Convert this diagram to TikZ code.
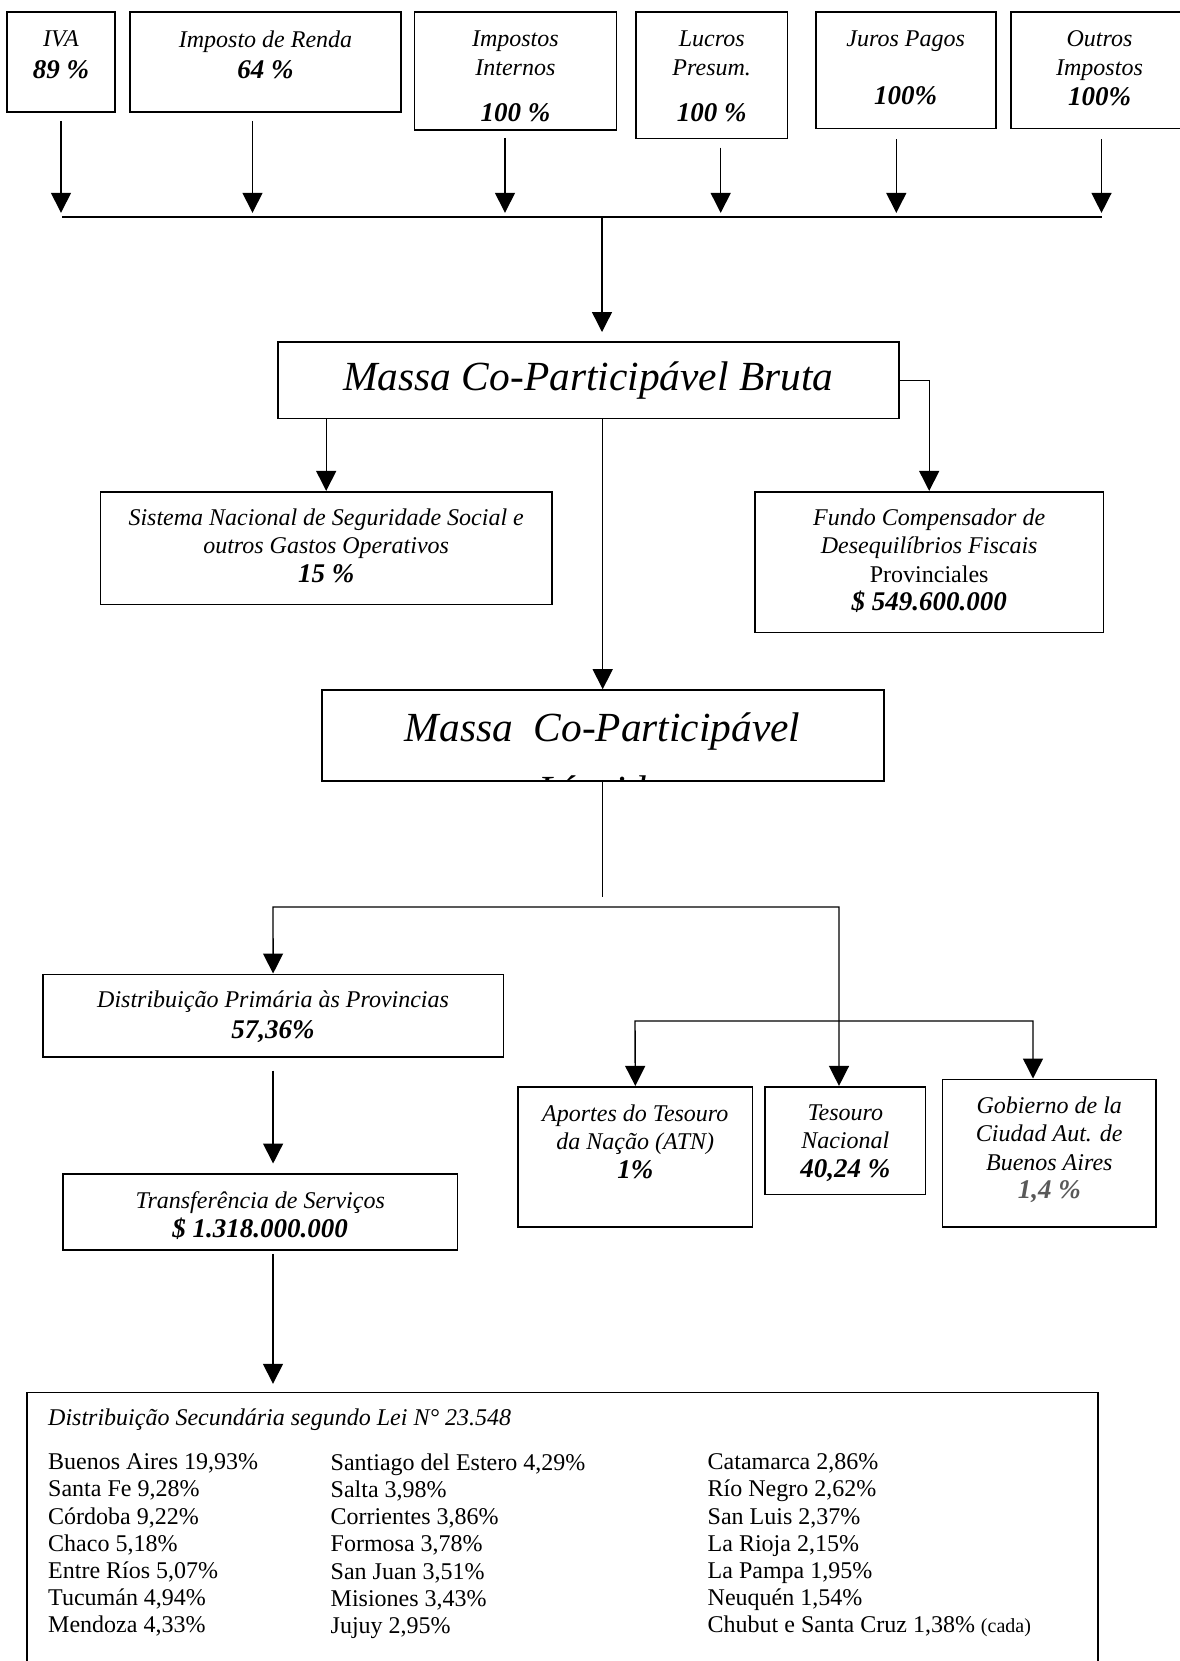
\documentclass[tikz,border=0pt]{standalone}
\usepackage{fontspec}
\setmainfont{Liberation Serif}
\usetikzlibrary{arrows.meta}

\newcommand{\pct}[1]{{\fontsize{13.5}{15}\selectfont\bfseries #1}}

\tikzset{
    box/.style={draw, line width=0.8pt, inner sep=0pt},
    txt/.style={anchor=north, inner sep=0pt, align=center, font=\fontsize{12}{14.2}\selectfont\itshape},
    big/.style={font=\fontsize{20.7}{31.5}\selectfont\itshape},
    col/.style={anchor=north west, inner sep=0pt, align=left, font=\fontsize{12}{13.6}\selectfont}
}

\begin{document}
\begin{tikzpicture}[x=0.5pt, y=-0.5pt, line width=0.7pt, >={Triangle[length=10pt, width=10pt]}]
    \useasboundingbox (0,0) rectangle (1179,1661);

    \node[box, minimum width=54pt, minimum height=50pt] at (61, 62) (iva) {};
    \node[txt] at ([yshift=-9.5pt]iva.north) (iva-t) {IVA\\[1.5pt]\pct{89 \%}};
    \node[box, minimum width=135.5pt, minimum height=50pt] at (265.5, 62) (renda) {};
    \node[txt] at ([yshift=-9.5pt]renda.north) (renda-t) {Imposto de Renda\\[1.5pt]\pct{64 \%}};
    \node[box, minimum width=101pt, minimum height=59pt] at (515.4, 71) (internos) {};
    \node[txt] at ([yshift=-9.5pt]internos.north) (internos-t) {Impostos\\Internos\\[9pt]\pct{100 \%}};
    \node[box, minimum width=75.7pt, minimum height=63.2pt] at (711.7, 75.2) (lucros) {};
    \node[txt] at ([yshift=-9.5pt]lucros.north) (lucros-t) {Lucros\\Presum.\\[9pt]\pct{100 \%}};
    \node[box, minimum width=90pt, minimum height=58.2pt] at (905.7, 70.2) (juros) {};
    \node[txt] at ([yshift=-9.5pt]juros.north) (juros-t) {Juros Pagos\\[14.5pt]\pct{100\%}};
    \node[box, minimum width=88.5pt, minimum height=58.2pt] at (1099.5, 70.2) (outros) {};
    \node[txt] at ([yshift=-9.5pt]outros.north) (outros-t) {Outros\\Impostos\\[1pt]\pct{100\%}};

    \draw[->] ([yshift=-4pt]iva.south) -- ++(0,92);
    \draw[->] ([xshift=-6.5pt, yshift=-4pt]renda.south) -- ++(0,92);
    \draw[->] ([xshift=-5.2pt, yshift=-3.5pt]internos.south) -- ++(0,75);
    \draw[->] ([xshift=4.5pt, yshift=-4.2pt]lucros.south) -- ++(0,65.3);
    \draw[->] ([xshift=-4.7pt, yshift=-5pt]juros.south) -- ++(0,73.7);
    \draw[->] ([xshift=1pt, yshift=-5pt]outros.south) -- ++(0,73.7);

    \coordinate (bar-l) at (62, 217);
    \coordinate (bar-r) at (1102, 217);
    \coordinate (join) at (602, 217);
    \draw[line width=1pt] (bar-l) -- (bar-r);

    \node[box, big, minimum width=310.4pt, minimum height=38.2pt] at (588.4, 380.2) (bruta) {Massa Co-Participável Bruta};
    \draw[->] (join) -- ++(0,115);

    \node[box, minimum width=225.6pt, minimum height=56.3pt] at (326.2, 548) (seg) {};
    \node[txt] at ([yshift=-8.5pt]seg.north) (seg-t) {Sistema Nacional de Seguridade Social e\\outros Gastos Operativos\\\pct{15 \%}};
    \node[box, minimum width=174.2pt, minimum height=70.3pt] at (929.2, 562) (fundo) {};
    \node[txt] at ([yshift=-8.5pt]fundo.north) (fundo-t) {Fundo Compensador de\\Desequilíbrios Fiscais\\{\upshape Provinciales}\\\pct{\$ 549.600.000}};

    \draw[->] (bruta.south -| seg.north) -- (seg.north);
    \draw[->] (bruta.east) -| (fundo.north);

    \node[box, minimum width=281pt, minimum height=45.5pt] at (602.7, 735.5) (liq) {};
    \begin{scope}
        \clip (liq.north west) rectangle (liq.south east);
        \node[big, anchor=north, inner sep=0pt, align=center] at ([yshift=-11.5pt]liq.north) (liq-t) {Massa\ \ Co-Participável\\Líquida};
    \end{scope}
    \draw[->] (bruta.south -| liq.north) -- (liq.north);
    \draw (liq.south) -- ++(0,115);

    \coordinate (split-l) at (273, 907);
    \coordinate (split-r) at (839, 907);

    \node[box, minimum width=230.2pt, minimum height=41.2pt] at (273.1, 1015.5) (prim) {};
    \node[txt] at ([yshift=-8.5pt]prim.north) (prim-t) {Distribuição Primária às Provincias\\[1pt]\pct{57,36\%}};
    \node[box, minimum width=197.1pt, minimum height=38pt] at (260.2, 1212) (transf) {};
    \node[txt] at ([yshift=-9pt]transf.north) (transf-t) {Transferência de Serviços\\\pct{\$ 1.318.000.000}};

    \node[box, minimum width=117.1pt, minimum height=70pt] at (635.3, 1156.7) (aportes) {};
    \node[txt] at ([yshift=-9pt]aportes.north) (aportes-t) {Aportes do Tesouro\\da Nação (ATN)\\\pct{1\%}};
    \node[box, minimum width=80.3pt, minimum height=53.8pt] at (845.3, 1140.5) (tes) {};
    \node[txt] at ([yshift=-9pt]tes.north) (tes-t) {Tesouro\\Nacional\\\pct{40,24 \%}};
    \node[box, minimum width=106.8pt, minimum height=73.7pt] at (1049.3, 1153) (gob) {};
    \node[txt] at ([yshift=-8.8pt]gob.north) (gob-t) {Gobierno de la\\Ciudad Aut. de\\Buenos Aires\\\pct{\color{black!65}1,4 \%}};

    \draw[<->] (prim.north) -- (split-l) -- (split-r) -- (split-r |- tes.north);

    \coordinate (atn-l) at (635, 1021);
    \coordinate (atn-r) at (1033, 1021);
    \draw[<->] (aportes.north) -- (atn-l) -- (atn-r) -- (atn-r |- gob.north);

    \draw[->] ([yshift=-6.5pt]prim.south) -- ++(0,93);
    \draw[->] ([xshift=6.4pt, yshift=-1.5pt]transf.south) -- ++(0,130);

    \node[minimum width=534.8pt, minimum height=133.85pt, inner sep=0pt] at (562.3, 1527.15) (sec) {};
    \draw[line width=0.8pt] (sec.south west) |- (sec.north east) -- (sec.south east);
    \node[anchor=base west, inner sep=0pt, font=\fontsize{12}{14}\selectfont\itshape] at (47.5, 1425) (sec-t) {Distribuição Secundária segundo Lei N° 23.548};
    \node[col] at (47.5, 1453) (col-a) {Buenos Aires 19,93\%\\Santa Fe 9,28\%\\Córdoba 9,22\%\\Chaco 5,18\%\\Entre Ríos 5,07\%\\Tucumán 4,94\%\\Mendoza 4,33\%};
    \node[col] at (330, 1453) (col-b) {Santiago del Estero 4,29\%\\Salta 3,98\%\\Corrientes 3,86\%\\Formosa 3,78\%\\San Juan 3,51\%\\Misiones 3,43\%\\Jujuy 2,95\%};
    \node[col] at (707, 1453) (col-c) {Catamarca 2,86\%\\Río Negro 2,62\%\\San Luis 2,37\%\\La Rioja 2,15\%\\La Pampa 1,95\%\\Neuquén 1,54\%\\Chubut e Santa Cruz 1,38\% {\fontsize{10}{12}\selectfont(cada)}};

\end{tikzpicture}
\end{document}
